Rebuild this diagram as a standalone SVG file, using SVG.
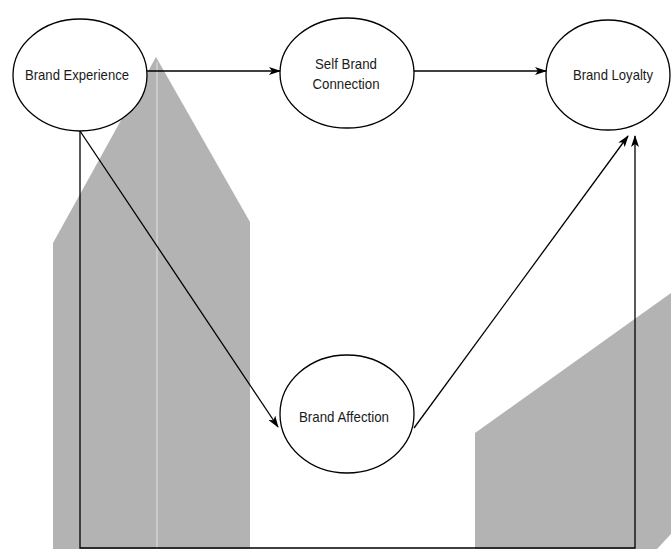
<svg xmlns="http://www.w3.org/2000/svg" width="671" height="549" viewBox="0 0 671 549">
<style>
.bg{fill:#b3b3b3;stroke:none}
.node ellipse{fill:#ffffff;stroke:#000000;stroke-width:1.3}
.node text{font-family:"Liberation Sans",Arial,sans-serif;font-size:15px;fill:#1a1a1a;text-anchor:middle;dominant-baseline:central}
.edge{fill:none;stroke:#000000;stroke-width:1.3}
</style>
<defs>
<marker id="arr" viewBox="0 0 12 8" refX="11" refY="4" markerWidth="12" markerHeight="8" markerUnits="userSpaceOnUse" orient="auto">
<path d="M0,0 L12,4 L0,8 L3,4 Z" fill="#000000"/>
</marker>
</defs>
<rect x="0" y="0" width="671" height="549" fill="#ffffff"/>
<g id="background">
<polygon class="bg" points="53,243 156,57 250,222 250,549 53,549"/>
<line x1="157" y1="62" x2="157" y2="549" stroke="#d2d2d2" stroke-width="1.5"/>
<polygon class="bg" points="475,433 671,293 671,534 657,549 475,549"/>
</g>
<g id="connectors">
<path class="edge" d="M147,71 L280,71" marker-end="url(#arr)"/>
<path class="edge" d="M414,71 L546,71" marker-end="url(#arr)"/>
<path class="edge" d="M80,131 L278,427" marker-end="url(#arr)"/>
<path class="edge" d="M414,428 L628,136" marker-end="url(#arr)"/>
<path class="edge" d="M80,131 L80,548 L635,548 L635,136" marker-end="url(#arr)"/>
</g>
<g id="brand-experience" class="node">
<ellipse cx="80" cy="75" rx="67" ry="56"/>
<text x="77" y="74" textLength="104" lengthAdjust="spacingAndGlyphs">Brand Experience</text>
</g>
<g id="self-brand-connection" class="node">
<ellipse cx="347" cy="73" rx="67" ry="55"/>
<text x="346" y="63" textLength="62" lengthAdjust="spacingAndGlyphs">Self Brand</text>
<text x="346" y="83" textLength="67" lengthAdjust="spacingAndGlyphs">Connection</text>
</g>
<g id="brand-loyalty" class="node">
<ellipse cx="608" cy="75" rx="62" ry="55"/>
<text x="613" y="74" textLength="80" lengthAdjust="spacingAndGlyphs">Brand Loyalty</text>
</g>
<g id="brand-affection" class="node">
<ellipse cx="347" cy="414" rx="67" ry="59"/>
<text x="344" y="416" textLength="90" lengthAdjust="spacingAndGlyphs">Brand Affection</text>
</g>
</svg>
